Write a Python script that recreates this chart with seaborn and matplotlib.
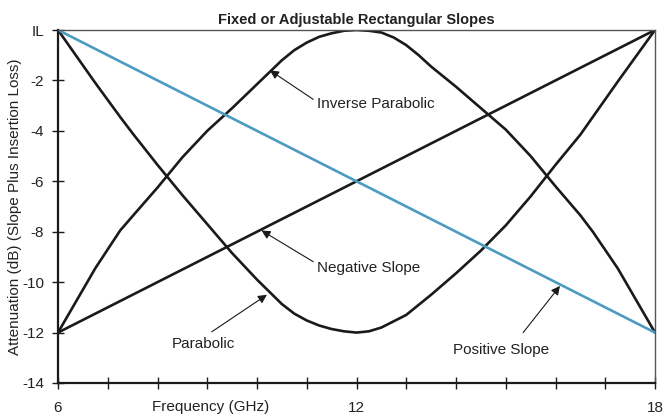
import matplotlib
matplotlib.use("Agg")
import matplotlib.pyplot as plt
import seaborn as sns
import pandas as pd

# Frequency samples (GHz) for the curved slopes
freq = [6, 6.75, 7.25, 7.5, 8, 8.5, 9, 9.5, 10, 10.5, 10.75, 11, 11.25,
        11.5, 11.75, 12, 12.25, 12.5, 12.75, 13, 13.25, 13.5, 14, 14.5, 15,
        15.5, 16, 16.5, 16.75, 17.25, 18]
parabolic = [0, -2.1, -3.45, -4.1, -5.35, -6.55, -7.7, -8.85, -9.9, -10.87,
             -11.25, -11.52, -11.72, -11.86, -11.95, -12, -11.95, -11.8,
             -11.55, -11.3, -10.9, -10.5, -9.65, -8.75, -7.75, -6.6, -5.35,
             -4.15, -3.45, -2.05, 0]
inverse_parabolic = [-12, -9.45, -7.95, -7.38, -6.25, -5.05, -4.0, -3.1,
                     -2.15, -1.2, -0.8, -0.5, -0.27, -0.13, -0.03, 0, -0.03,
                     -0.1, -0.3, -0.6, -1.0, -1.45, -2.25, -3.1, -3.95, -5.0,
                     -6.2, -7.35, -8.0, -9.45, -12]

# Straight slopes
lin_freq = [6, 18]
positive_slope = [0, -12]
negative_slope = [-12, 0]

x_ticks = list(range(6, 19))
x_tick_labels = ["6", "", "", "", "", "", "12", "", "", "", "", "", "18"]
y_ticks = [0, -2, -4, -6, -8, -10, -12, -14]
y_tick_labels = ["IL", "-2", "-4", "-6", "-8", "-10", "-12", "-14"]

sns.set_theme(style="ticks")
plt.rcParams["font.family"] = ["Liberation Sans", "DejaVu Sans"]

fig = plt.figure(figsize=(6.65, 4.17), dpi=100)
ax = fig.add_axes([58 / 665, 34 / 417, 597 / 665, 353 / 417])

black = "#1a1a1a"
blue = "#4b9bc3"
text_col = "#222222"

curves = pd.DataFrame({"f": freq, "p": parabolic, "ip": inverse_parabolic})
lines = pd.DataFrame({"f": lin_freq, "pos": positive_slope, "neg": negative_slope})

sns.lineplot(data=curves, x="f", y="p", ax=ax, color=black, lw=1.9, estimator=None)
sns.lineplot(data=curves, x="f", y="ip", ax=ax, color=black, lw=1.9, estimator=None)
sns.lineplot(data=lines, x="f", y="neg", ax=ax, color=black, lw=1.9, estimator=None)
sns.lineplot(data=lines, x="f", y="pos", ax=ax, color=blue, lw=1.9, estimator=None)

ax.set_xlim(6, 18)
ax.set_ylim(-14, 0)
ax.set_xticks(x_ticks)
ax.set_xticklabels(x_tick_labels)
ax.set_yticks(y_ticks)
ax.set_yticklabels(y_tick_labels)
ax.tick_params(axis="both", direction="inout", length=8, width=1.0,
               color=black, labelsize=11, labelcolor=text_col)
ax.tick_params(axis="x", pad=9)
ax.tick_params(axis="y", pad=6)

for side in ("left", "bottom"):
    ax.spines[side].set_color(black)
    ax.spines[side].set_linewidth(1.6)
for side in ("top", "right"):
    ax.spines[side].set_visible(True)
    ax.spines[side].set_color("#555555")
    ax.spines[side].set_linewidth(1.0)

ax.set_title("Fixed or Adjustable Rectangular Slopes", fontsize=10.5,
             fontweight="bold", color=text_col, pad=4)
ax.set_xlabel("Frequency (GHz)", fontsize=11, color=text_col)
ax.xaxis.set_label_coords((211 - 58) / 597, -0.047)
ax.set_ylabel("Attenuation (dB) (Slope Plus Insertion Loss)", fontsize=11,
              color=text_col, labelpad=0)

arrow = dict(arrowstyle="-|>", color=black, lw=0.8, mutation_scale=13,
             shrinkA=0, shrinkB=0)
notes = [
    ("Inverse Parabolic", (10.26, -1.6), (11.13, -2.75), (11.21, -2.94)),
    ("Negative Slope", (10.09, -7.95), (11.13, -9.19), (11.2, -9.42)),
    ("Parabolic", (10.2, -10.5), (9.09, -11.97), (8.28, -12.46)),
    ("Positive Slope", (16.09, -10.15), (15.35, -12.0), (13.93, -12.7)),
]
for label, head, tail, text_pos in notes:
    ax.annotate("", xy=head, xytext=tail, arrowprops=arrow)
    ax.text(text_pos[0], text_pos[1], label, fontsize=11, color=text_col,
            ha="left", va="center")

fig.savefig("out.png", dpi=100)
